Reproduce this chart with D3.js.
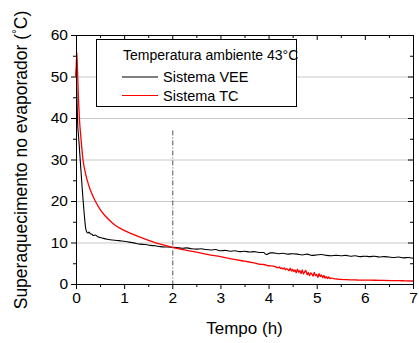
<!DOCTYPE html>
<html>
<head>
<meta charset="utf-8">
<script src="https://cdn.jsdelivr.net/npm/d3@7"></script>
<style>
  body { margin: 0; background: #fff; }
  text { font-family: "Liberation Sans", Arial, sans-serif; fill: #000; }
</style>
</head>
<body>
<svg id="chart"></svg>
<script>
// time (h) and superheat (°C)
const veeTime = [0.0, 0.006, 0.015, 0.03, 0.06, 0.09, 0.12, 0.145, 0.17, 0.2, 0.22, 0.25, 0.27, 0.3, 0.33, 0.36, 0.4, 0.45, 0.5, 0.57, 0.65, 0.75, 0.85, 0.92, 1.0, 1.1, 1.2, 1.33, 1.45, 1.54, 1.65, 1.75, 1.9, 2.0, 2.1, 2.2, 2.3, 2.4, 2.5, 2.6, 2.7, 2.8, 2.9, 3.0, 3.1, 3.2, 3.3, 3.4, 3.5, 3.6, 3.7, 3.8, 3.9, 3.95, 4.04, 4.1, 4.2, 4.3, 4.4, 4.5, 4.6, 4.7, 4.8, 4.9, 5.0, 5.1, 5.2, 5.3, 5.4, 5.52, 5.6, 5.7, 5.8, 5.9, 6.0, 6.1, 6.2, 6.3, 6.4, 6.5, 6.6, 6.7, 6.8, 6.9, 7.0];
const veeValue = [50, 52, 47, 40, 34.5, 29.5, 24.5, 20.5, 17, 13.5, 12.6, 12.3, 12.5, 12.1, 12.0, 11.7, 11.8, 11.4, 11.2, 11.0, 10.8, 10.6, 10.5, 10.4, 10.3, 10.1, 9.9, 9.6, 9.5, 9.3, 9.2, 9.0, 8.9, 8.85, 8.8, 8.6, 8.7, 8.5, 8.4, 8.5, 8.3, 8.2, 8.3, 8.0, 8.1, 7.9, 8.0, 7.8, 7.9, 7.7, 7.8, 7.6, 7.6, 7.1, 7.5, 7.5, 7.3, 7.4, 7.2, 7.3, 7.2, 7.0, 7.2, 6.9, 7.0, 7.1, 6.9, 6.8, 6.9, 6.8, 6.9, 6.7, 6.8, 6.6, 6.7, 6.6, 6.7, 6.5, 6.6, 6.5, 6.4, 6.5, 6.3, 6.4, 6.2];

const tcTime = [0.0, 0.015, 0.03, 0.05, 0.07, 0.1, 0.145, 0.2, 0.25, 0.3, 0.4, 0.5, 0.6, 0.71, 0.8, 0.92, 1.02, 1.1, 1.33, 1.54, 1.75, 2.0, 2.25, 2.5, 2.75, 3.0, 3.25, 3.5, 3.6, 3.7, 3.8, 3.9, 4.0, 4.1, 4.2, 4.225, 4.25, 4.275, 4.3, 4.325, 4.35, 4.375, 4.4, 4.425, 4.45, 4.475, 4.5, 4.525, 4.55, 4.575, 4.6, 4.625, 4.65, 4.675, 4.7, 4.725, 4.75, 4.775, 4.8, 4.825, 4.85, 4.875, 4.9, 4.925, 4.95, 4.975, 5.0, 5.025, 5.05, 5.075, 5.1, 5.125, 5.15, 5.175, 5.2, 5.225, 5.25, 5.275, 5.3, 5.35, 5.42, 5.5, 5.6, 5.7, 5.84, 6.0, 6.2, 6.4, 6.6, 6.8, 7.0];
const tcValue = [50, 56, 52, 45, 40, 35.5, 30, 26.5, 24.3, 22.6, 20.0, 18.0, 16.5, 15.2, 14.3, 13.4, 12.8, 12.4, 11.3, 10.4, 9.6, 8.85, 8.2, 7.7, 7.1, 6.6, 6.0, 5.5, 5.3, 5.1, 4.8, 4.7, 4.4, 4.3, 3.9, 4.1, 3.7, 3.9, 3.6, 3.9, 3.4, 3.7, 3.5, 3.2, 3.8, 3.1, 3.5, 3.0, 3.4, 2.7, 3.6, 2.8, 3.2, 2.5, 3.4, 2.4, 2.9, 3.3, 2.2, 2.8, 2.0, 2.7, 2.4, 1.9, 2.8, 2.0, 2.3, 1.6, 2.5, 1.8, 2.2, 1.5, 2.1, 1.4, 1.8, 1.3, 1.7, 1.3, 1.5, 1.3, 1.2, 1.1, 1.05, 1.0, 0.96, 0.92, 0.9, 0.85, 0.8, 0.78, 0.72];

const xTicks = [0, 1, 2, 3, 4, 5, 6, 7];
const yTicks = [0, 10, 20, 30, 40, 50, 60];
const gridValues = [10, 20, 30, 40, 50];
const markerTime = 2;
const markerTop = 37;

const legendTitle = 'Temperatura ambiente 43°C';
const seriesNames = ['Sistema VEE', 'Sistema TC'];
const seriesColors = ['#000000', '#ff0000'];

const width = 419;
const height = 343;
const margin = { top: 35, right: 6, bottom: 59, left: 76 };

const svg = d3.select('#chart')
    .attr('width', width)
    .attr('height', height);

const x = d3.scaleLinear().domain([0, 7]).range([margin.left, width - margin.right]);
const y = d3.scaleLinear().domain([0, 60]).range([height - margin.bottom, margin.top]);

// grid
svg.append('g')
    .selectAll('line')
    .data(gridValues)
    .enter().append('line')
    .attr('x1', x(0))
    .attr('x2', x(7))
    .attr('y1', d => y(d) + 0.5)
    .attr('y2', d => y(d) + 0.5)
    .attr('stroke', '#c8c8c8')
    .attr('stroke-width', 1);

// dash-dot marker at 2 h
svg.append('line')
    .attr('x1', x(markerTime) + 0.5)
    .attr('x2', x(markerTime) + 0.5)
    .attr('y1', y(markerTop))
    .attr('y2', y(0))
    .attr('stroke', '#555')
    .attr('stroke-width', 1)
    .attr('stroke-dasharray', '5,2,1,2');

// curves
const line = d3.line()
    .x(d => x(d[0]))
    .y(d => y(d[1]))
    .curve(d3.curveMonotoneX);

const veeData = veeTime.map((t, i) => [t, veeValue[i]]);
const tcData = tcTime.map((t, i) => [t, tcValue[i]]);

svg.append('path')
    .datum(veeData)
    .attr('d', line)
    .attr('fill', 'none')
    .attr('stroke', seriesColors[0])
    .attr('stroke-width', 1.1);

svg.append('path')
    .datum(tcData)
    .attr('d', line)
    .attr('fill', 'none')
    .attr('stroke', seriesColors[1])
    .attr('stroke-width', 1.3);

// axes
const xMinor = d3.range(0.5, 7, 1);
const yMinor = d3.range(5, 60, 10);

const axisBottomG = svg.append('g')
    .attr('transform', `translate(0,${y(0)})`)
    .call(d3.axisBottom(x).tickValues(xTicks).tickFormat(d3.format('d')).tickSize(5).tickPadding(3));
axisBottomG.append('g').call(d3.axisBottom(x).tickValues(xMinor).tickFormat('').tickSize(3));

const axisLeftG = svg.append('g')
    .attr('transform', `translate(${x(0)},0)`)
    .call(d3.axisLeft(y).tickValues(yTicks).tickFormat(d3.format('d')).tickSize(5).tickPadding(3));
axisLeftG.append('g').call(d3.axisLeft(y).tickValues(yMinor).tickFormat('').tickSize(3));

const axisTopG = svg.append('g')
    .attr('transform', `translate(0,${y(60)})`)
    .call(d3.axisBottom(x).tickValues(xTicks).tickFormat('').tickSize(5));
axisTopG.append('g').call(d3.axisBottom(x).tickValues(xMinor).tickFormat('').tickSize(3));

const axisRightG = svg.append('g')
    .attr('transform', `translate(${x(7)},0)`)
    .call(d3.axisLeft(y).tickValues(yTicks).tickFormat('').tickSize(5));
axisRightG.append('g').call(d3.axisLeft(y).tickValues(yMinor).tickFormat('').tickSize(3));

svg.selectAll('.domain').attr('stroke', '#000');
svg.selectAll('.tick line').attr('stroke', '#000');
svg.selectAll('.tick text').style('font-size', '15.5px').attr('fill', '#000');
axisTopG.selectAll('.domain').remove();
axisRightG.selectAll('.domain').remove();
axisTopG.append('line').attr('x1', x(0)).attr('x2', x(7)).attr('y1', 0.5).attr('y2', 0.5).attr('stroke', '#000');
axisRightG.append('line').attr('x1', 0.5).attr('x2', 0.5).attr('y1', y(60)).attr('y2', y(0)).attr('stroke', '#000');

// axis titles
svg.append('text')
    .attr('x', (x(0) + x(7)) / 2)
    .attr('y', 334)
    .attr('text-anchor', 'middle')
    .style('font-size', '17px')
    .text('Tempo (h)');

const yTitle = svg.append('text')
    .attr('transform', `translate(27,160) rotate(-90)`)
    .attr('text-anchor', 'middle')
    .style('font-size', '17.5px');
yTitle.append('tspan').text('Superaquecimento no evaporador (');
yTitle.append('tspan').attr('dy', -6).style('font-size', '12px').text('°');
yTitle.append('tspan').attr('dy', 6).text('C)');

// legend
const legend = svg.append('g');
legend.append('rect')
    .attr('x', 96.5)
    .attr('y', 39.5)
    .attr('width', 200)
    .attr('height', 67)
    .attr('fill', '#fff')
    .attr('stroke', '#000');

legend.append('text')
    .attr('x', 123)
    .attr('y', 60)
    .style('font-size', '14px')
    .text(legendTitle);

seriesNames.forEach((name, i) => {
    const ly = 77 + i * 18.5;
    legend.append('line')
        .attr('x1', 122)
        .attr('x2', 158)
        .attr('y1', ly)
        .attr('y2', ly)
        .attr('stroke', seriesColors[i]);
    legend.append('text')
        .attr('x', 163)
        .attr('y', ly + 5)
        .style('font-size', '14.5px')
        .text(name);
});
</script>
</body>
</html>
